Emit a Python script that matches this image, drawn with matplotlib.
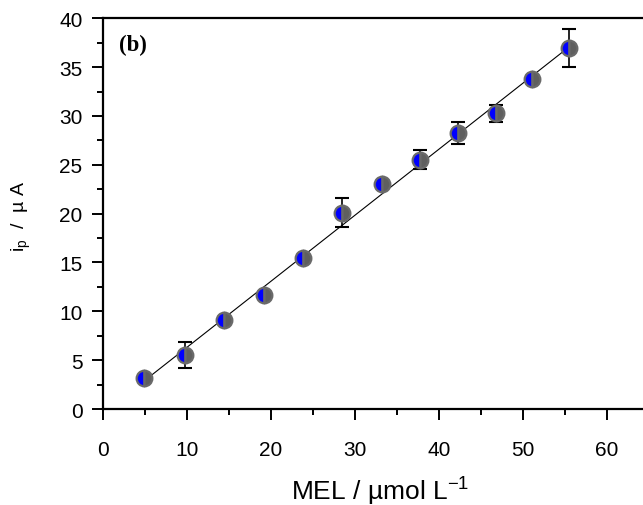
import numpy as np
import matplotlib
matplotlib.use("Agg")
import matplotlib.pyplot as plt
from matplotlib.ticker import MultipleLocator

plt.rcParams['font.family'] = ['Liberation Sans', 'DejaVu Sans']

# MEL concentration (umol/L), peak current (uA), error (uA)
conc = [4.9, 9.8, 14.5, 19.2, 23.9, 28.5, 33.2, 37.8, 42.3, 46.8, 51.1, 55.5]
ip = [3.17, 5.53, 9.11, 11.7, 15.5, 20.1, 23.0, 25.5, 28.26, 30.3, 33.75, 36.96]
err = [0.3, 1.37, 0.3, 0.3, 0.3, 1.5, 0.3, 0.97, 1.17, 0.87, 0.3, 1.93]

x = np.array(conc)
y = np.array(ip)
slope, icpt = np.polyfit(x, y, 1)
xfit = np.array([x.min(), x.max()])

fig = plt.figure(figsize=(6.43, 5.06), dpi=100)
ax = fig.add_axes([0.1597, 0.1897, 0.8403, 0.7722])

ax.plot(xfit, slope * xfit + icpt, color='black', lw=0.8, zorder=1)
ax.errorbar(x, y, yerr=err, fmt='none', ecolor='black', elinewidth=1.2,
            capsize=5, capthick=1.5, zorder=2)
ax.plot(x, y, 'o', ms=11.3, fillstyle='left', markerfacecolor='#0000ff',
        markerfacecoloralt='#5f5f5f', markeredgecolor='#6a6a6a', mew=1.6,
        ls='none', zorder=3)

ax.set_xlim(0, 64.32)
ax.set_ylim(0, 40)
ax.xaxis.set_major_locator(MultipleLocator(10))
ax.xaxis.set_minor_locator(MultipleLocator(5))
ax.yaxis.set_major_locator(MultipleLocator(5))
ax.yaxis.set_minor_locator(MultipleLocator(2.5))

for s in ['left', 'bottom', 'top']:
    ax.spines[s].set_linewidth(1.6)
ax.spines['right'].set_visible(False)

ax.tick_params(axis='both', which='major', direction='out', length=8,
               width=1.4, labelsize=15)
ax.tick_params(axis='both', which='minor', direction='out', length=4.5,
               width=1.4)
ax.tick_params(axis='x', which='major', pad=14)
ax.tick_params(axis='y', which='major', pad=6.5)

fig.text(380 / 643, 6 / 506, 'MEL / µmol L$^{\\mathregular{-1}}$',
         fontsize=19, ha='center', va='baseline')
fig.text(21 / 643, 0.5725, 'i$_{\\mathregular{p}}$  /  µ A', fontsize=14,
         rotation=90, ha='center', va='center')

ax.text(0.030, 0.960, '(b)', transform=ax.transAxes, fontsize=16.5,
        fontweight='bold', family='Liberation Serif', va='top', ha='left')

fig.savefig('out.png', dpi=100)
